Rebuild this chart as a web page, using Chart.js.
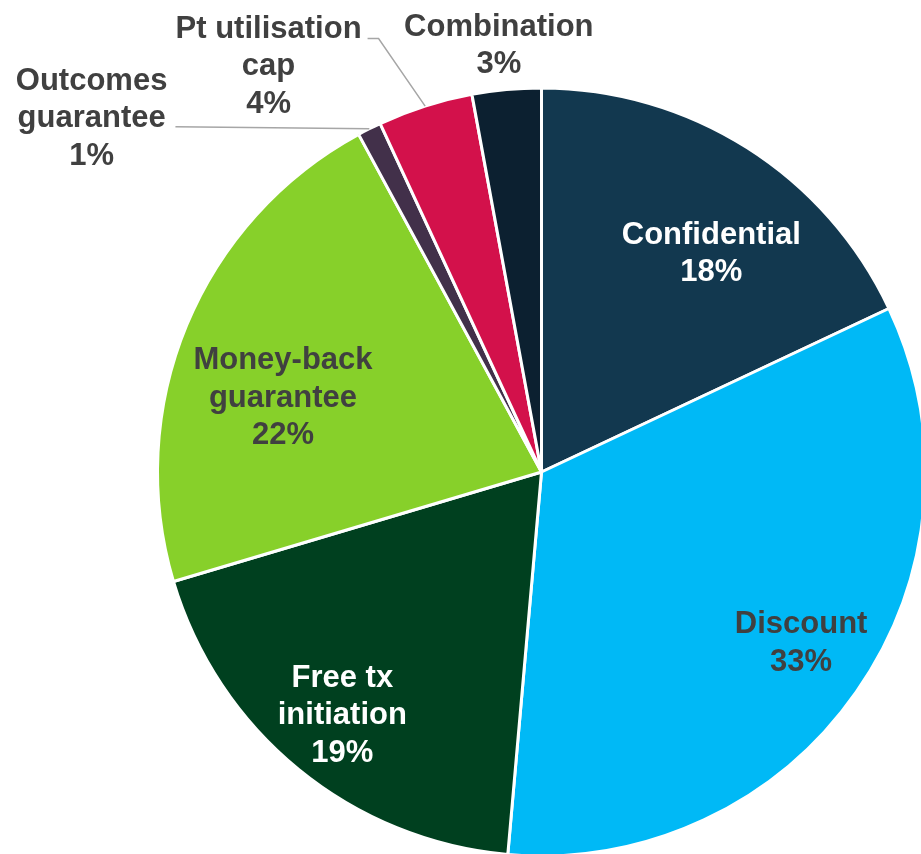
<!DOCTYPE html>
<html>
<head>
<meta charset="utf-8">
<script src="https://cdn.jsdelivr.net/npm/chart.js@4.4.1/dist/chart.umd.min.js"></script>
<style>
  html, body { margin: 0; padding: 0; background: #fff; overflow: hidden; }
  #wrap { width: 930px; height: 860px; }
</style>
</head>
<body>
<div id="wrap"><canvas id="pie" width="930" height="860"></canvas></div>
<script>
const categories = ['Confidential', 'Discount', 'Free tx initiation', 'Money-back guarantee', 'Outcomes guarantee', 'Pt utilisation cap', 'Combination'];
const shares = [18.0, 33.4, 19.0, 21.7, 1.0, 4.0, 2.9];
const labelLines = [['Confidential'], ['Discount'], ['Free tx', 'initiation'], ['Money-back', 'guarantee'], ['Outcomes', 'guarantee'], ['Pt utilisation', 'cap'], ['Combination']];
const sliceColors = ['#12384f', '#00b9f6', '#00401f', '#87d02a', '#42304a', '#d3114b', '#0c2030'];
const labelColors = ['#ffffff', '#404040', '#ffffff', '#404040', '#404040', '#404040', '#404040'];
// label spot: radius as fraction of pie radius, angle shift (deg) from slice middle
const labelPlace = [
  { r: 0.72, da: 5.5 },
  { r: 0.81, da: -1.5 },
  { r: 0.82, da: 0 },
  { r: 0.70, da: -6.6 },
  { r: 1.49, da: -25.2, leader: 'flat' },
  { r: 1.273, da: -16.3, leader: 'elbow' },
  { r: 1.115, da: -0.5 }
];

const FONT = 'bold 31px "Liberation Sans", Arial, sans-serif';
const LINE_H = 37.5;

const pieLabels = {
  id: 'pieLabels',
  afterDatasetsDraw(chart) {
    const ctx = chart.ctx;
    const arcs = chart.getDatasetMeta(0).data;
    ctx.save();
    ctx.font = FONT;
    ctx.textAlign = 'center';
    ctx.textBaseline = 'middle';
    arcs.forEach((arc, i) => {
      const { x, y, startAngle, endAngle, outerRadius } = arc.getProps(['x', 'y', 'startAngle', 'endAngle', 'outerRadius'], true);
      const mid = (startAngle + endAngle) / 2;
      const p = labelPlace[i];
      const a = mid + p.da * Math.PI / 180;
      const cx = x + Math.cos(a) * outerRadius * p.r;
      const cy = y + Math.sin(a) * outerRadius * p.r;
      const lines = labelLines[i].concat([Math.round(shares[i]) + '%']);
      const top = cy - (lines.length - 1) * LINE_H / 2;

      if (p.leader) {
        const ex = x + Math.cos(mid) * outerRadius;
        const ey = y + Math.sin(mid) * outerRadius;
        ctx.strokeStyle = '#a6a6a6';
        ctx.lineWidth = 1.5;
        ctx.beginPath();
        if (p.leader === 'flat') {
          const w = Math.max(...lines.map(t => ctx.measureText(t).width));
          ctx.moveTo(ex, ey);
          ctx.lineTo(cx + w / 2 + 8, ey - 2);
        } else {
          const w = ctx.measureText(lines[0]).width;
          const ly = top + 9.5;
          ctx.moveTo(ex, ey);
          ctx.lineTo(cx + w / 2 + 17, ly);
          ctx.lineTo(cx + w / 2 + 6, ly);
        }
        ctx.stroke();
      }

      ctx.fillStyle = labelColors[i];
      lines.forEach((t, k) => ctx.fillText(t, cx, top + k * LINE_H));
    });
    ctx.restore();
  }
};

new Chart(document.getElementById('pie'), {
  type: 'pie',
  data: {
    labels: categories,
    datasets: [{
      data: shares,
      backgroundColor: sliceColors,
      borderColor: '#ffffff',
      borderWidth: 3
    }]
  },
  options: {
    responsive: false,
    animation: false,
    events: [],
    layout: { padding: { left: 156, top: 86.5, right: 3, bottom: 2.5 } },
    plugins: {
      legend: { display: false },
      tooltip: { enabled: false }
    }
  },
  plugins: [pieLabels]
});
</script>
</body>
</html>
